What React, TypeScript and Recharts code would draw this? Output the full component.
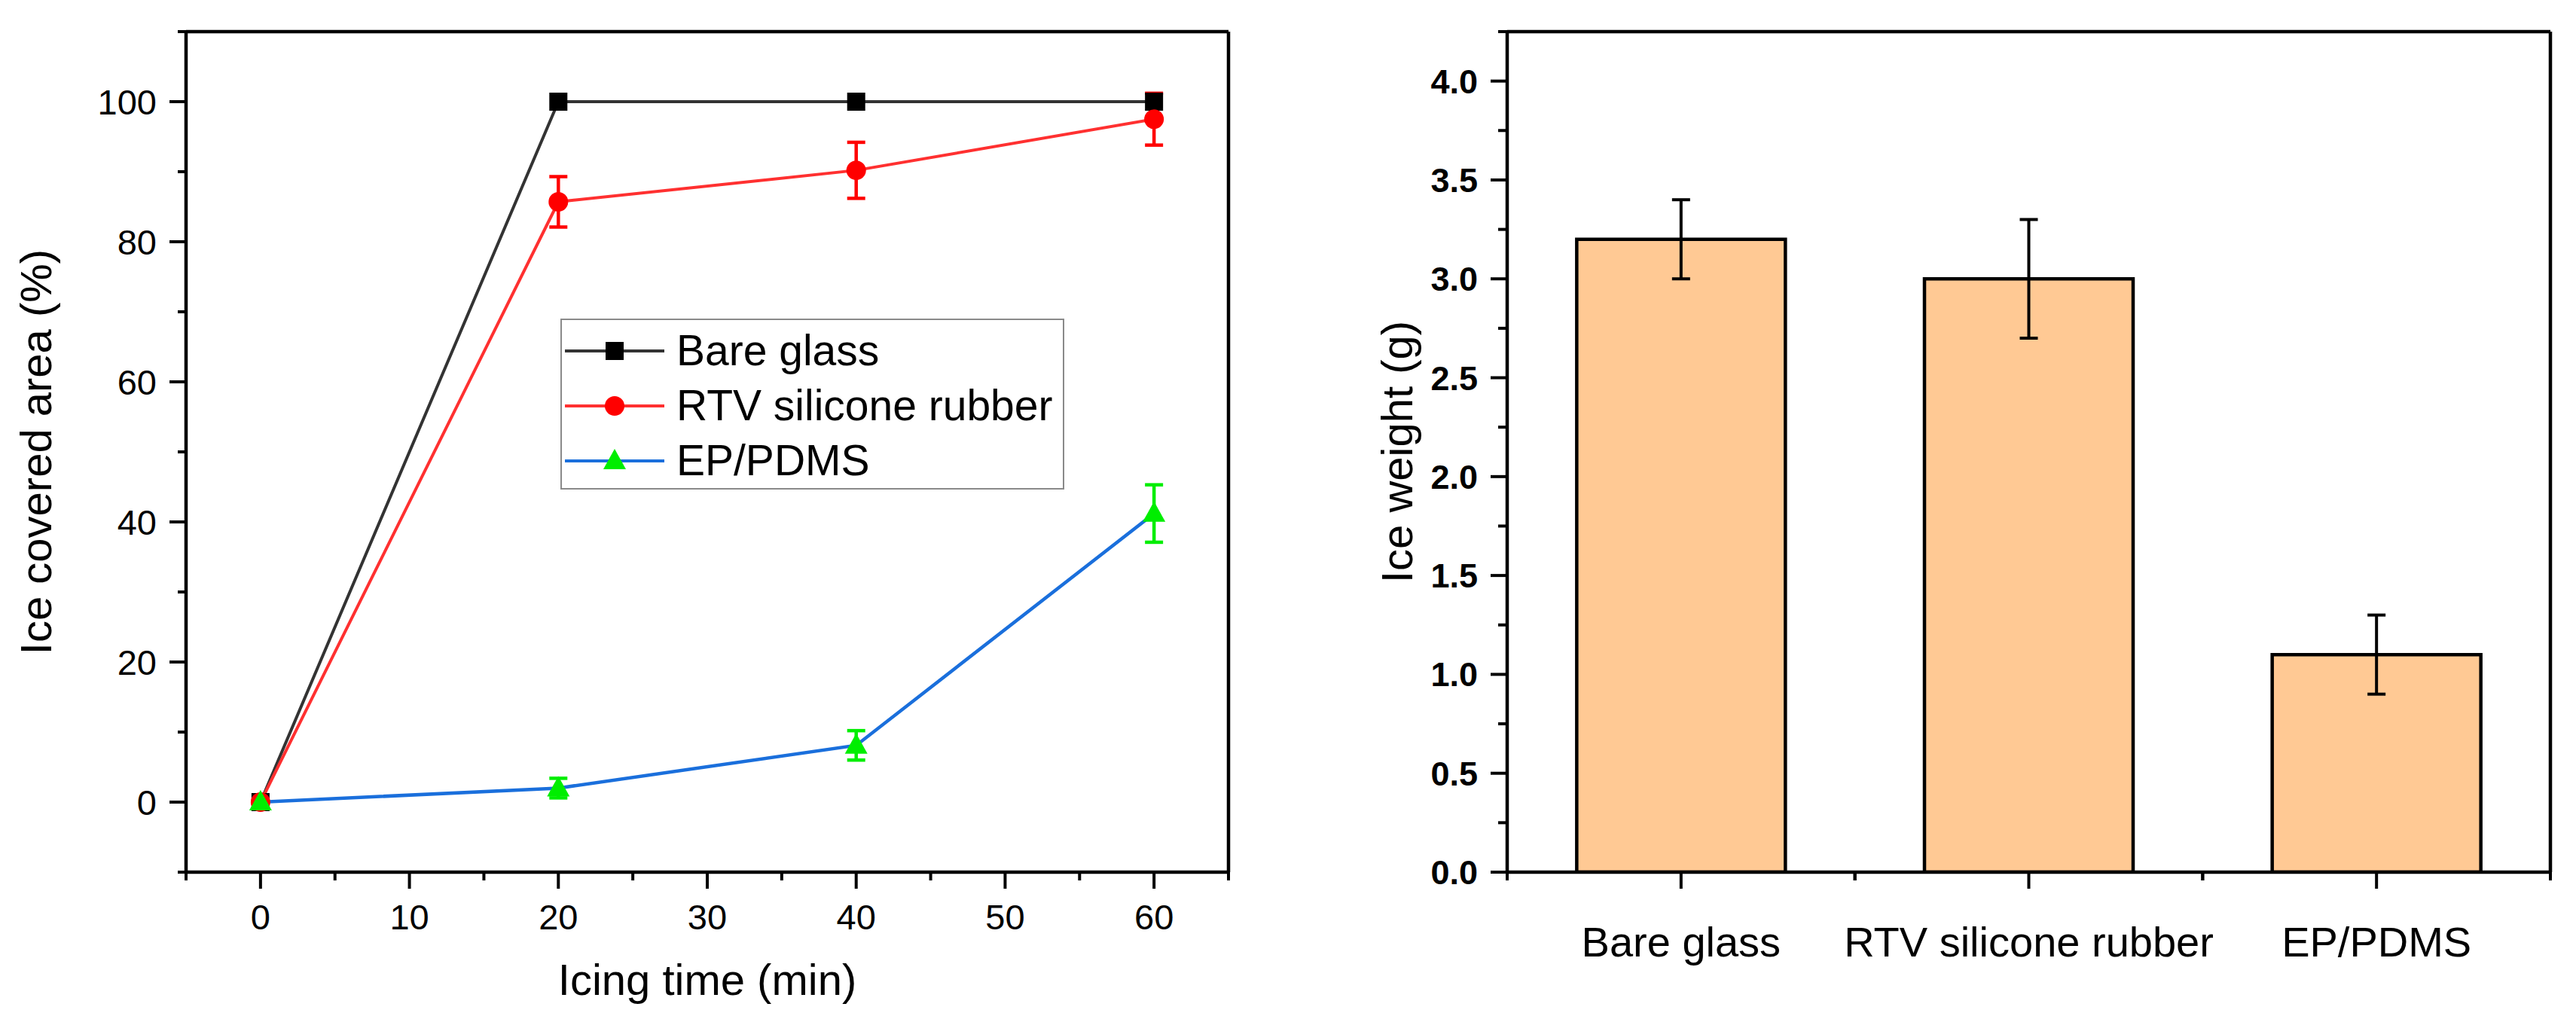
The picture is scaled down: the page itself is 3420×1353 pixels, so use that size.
import React from 'react';
import { LineChart, Line, BarChart, Bar, XAxis, YAxis, ErrorBar, Legend, CartesianGrid } from 'recharts';

const FONT = '"Liberation Sans", Arial, Helvetica, sans-serif';

// left panel: ice covered area (%) vs icing time (min)
const icingTime = [0, 20, 40, 60];
const bareGlassArea = [0, 100, 100, 100];
const rtvArea = [0, 85.7, 90.2, 97.5];
const rtvAreaErr = [0, 3.6, 4.0, 3.7];
const epArea = [0, 2.0, 8.1, 41.2];
const epAreaErr = [0, 1.4, 2.1, 4.1];

const timeTicks = [-5, 0, 5, 10, 15, 20, 25, 30, 35, 40, 45, 50, 55, 60, 65];
const areaTicks = [-10, 0, 10, 20, 30, 40, 50, 60, 70, 80, 90, 100, 110];

// right panel: ice weight (g) per sample
const samples = ['Bare glass', 'RTV silicone rubber', 'EP/PDMS'];
const iceWeight = [3.2, 3.0, 1.1];
const iceWeightErr = [0.2, 0.3, 0.2];
const weightTicks = [0, 0.25, 0.5, 0.75, 1, 1.25, 1.5, 1.75, 2, 2.25, 2.5, 2.75, 3, 3.25, 3.5, 3.75, 4, 4.25];

const areaData = icingTime.map((t, i) => ({
  time: t,
  bare: bareGlassArea[i],
  rtv: rtvArea[i],
  rtvErr: rtvAreaErr[i],
  ep: epArea[i],
  epErr: epAreaErr[i],
}));

const weightData = samples.map((s, i) => ({ name: s, weight: iceWeight[i], err: iceWeightErr[i] }));

const AXIS = { stroke: '#000', strokeWidth: 4.5 };
const BAND = (3386 - 2001) / 3;

const MARKERS: Record<string, { kind: string; fill: string }> = {
  'Bare glass': { kind: 'square', fill: '#000000' },
  'RTV silicone rubber': { kind: 'circle', fill: '#ff0000' },
  'EP/PDMS': { kind: 'triangle', fill: '#00ee00' },
};

function marker(kind: string, cx: number, cy: number, fill: string, key?: string) {
  if (kind === 'square') return <rect key={key} x={cx - 12} y={cy - 12} width={24} height={24} fill={fill} />;
  if (kind === 'circle') return <circle key={key} cx={cx} cy={cy} r={13} fill={fill} />;
  return <polygon key={key} points={`${cx},${cy - 16} ${cx - 15},${cy + 11} ${cx + 15},${cy + 11}`} fill={fill} />;
}

const dotOf = (name: string) => (p: any) => {
  const m = MARKERS[name];
  return marker(m.kind, p.cx, p.cy, m.fill, `${name}-${p.index}`);
};

const TimeTick = (p: any) => {
  const { x, y, payload } = p;
  const major = payload.value % 10 === 0;
  return (
    <g>
      <line x1={x} x2={x} y1={y} y2={y + (major ? 22 : 11)} stroke="#000" strokeWidth={4} />
      {major && (
        <text x={x} y={y + 76} textAnchor="middle" fontSize={47} fontFamily={FONT} fill="#000">
          {payload.value}
        </text>
      )}
    </g>
  );
};

const AreaTick = (p: any) => {
  const { x, y, payload } = p;
  const major = payload.value % 20 === 0;
  return (
    <g>
      <line x1={x - (major ? 22 : 11)} x2={x} y1={y} y2={y} stroke="#000" strokeWidth={4} />
      {major && (
        <text x={x - 39} y={y + 17} textAnchor="end" fontSize={47} fontFamily={FONT} fill="#000">
          {payload.value}
        </text>
      )}
    </g>
  );
};

const WeightTick = (p: any) => {
  const { x, y, payload } = p;
  const v = payload.value;
  const major = Math.abs(v * 2 - Math.round(v * 2)) < 1e-6;
  return (
    <g>
      <line x1={x - (major ? 22 : 12)} x2={x} y1={y} y2={y} stroke="#000" strokeWidth={4} />
      {major && (
        <text x={x - 39} y={y + 16} textAnchor="end" fontSize={45} fontWeight="bold" fontFamily={FONT} fill="#000">
          {v.toFixed(1)}
        </text>
      )}
    </g>
  );
};

const SampleTick = (p: any) => {
  const { x, y, payload } = p;
  return (
    <g>
      <line x1={x} x2={x} y1={y} y2={y + 22} stroke="#000" strokeWidth={4} />
      <line x1={x - BAND / 2} x2={x - BAND / 2} y1={y} y2={y + 11} stroke="#000" strokeWidth={4} />
      <line x1={x + BAND / 2} x2={x + BAND / 2} y1={y} y2={y + 11} stroke="#000" strokeWidth={4} />
      <text x={x} y={y + 112} textAnchor="middle" fontSize={56} fontFamily={FONT} fill="#000">
        {payload.value}
      </text>
    </g>
  );
};

const renderLegend = (props: any) => {
  const payload = [...(props.payload || [])].sort((a: any, b: any) => samples.indexOf(a.value) - samples.indexOf(b.value));
  return (
    <div
      style={{
        width: 669,
        height: 227,
        border: '2px solid #8a8a8a',
        background: '#fff',
        fontFamily: FONT,
        fontSize: 57,
        color: '#000',
        paddingTop: 4,
        boxSizing: 'border-box',
      }}
    >
      {payload.map((entry: any) => {
        const m = MARKERS[entry.value];
        return (
          <div key={entry.value} style={{ display: 'flex', alignItems: 'center', height: 73, lineHeight: '73px' }}>
            <svg width={152} height={40} style={{ flex: 'none' }}>
              <line x1={4} x2={136} y1={20} y2={20} stroke={entry.color} strokeWidth={4} />
              {marker(m.kind, 70, 20, m.fill)}
            </svg>
            <span style={{ whiteSpace: 'nowrap' }}>{entry.value}</span>
          </div>
        );
      })}
    </div>
  );
};

function AreaChartPanel() {
  return (
    <LineChart width={1710} height={1353} data={areaData} margin={{ top: 42, right: 79, bottom: 0, left: 0 }}>
      {/* closes the box: top and right borders */}
      <CartesianGrid horizontalPoints={[42]} verticalPoints={[1631]} stroke="#000" strokeWidth={4.5} />
      <XAxis
        dataKey="time"
        type="number"
        domain={[-5, 65]}
        ticks={timeTicks}
        interval={0}
        allowDataOverflow
        height={195}
        axisLine={AXIS}
        tickLine={false}
        tickSize={0}
        tickMargin={0}
        tick={TimeTick}
        label={{
          content: ({ viewBox }: any) => (
            <text x={viewBox.x + viewBox.width / 2} y={viewBox.y + 163} textAnchor="middle" fontSize={58} fontFamily={FONT} fill="#000">
              Icing time (min)
            </text>
          ),
        }}
      />
      <YAxis
        type="number"
        domain={[-10, 110]}
        ticks={areaTicks}
        interval={0}
        allowDataOverflow
        width={247}
        axisLine={AXIS}
        tickLine={false}
        tickSize={0}
        tickMargin={0}
        tick={AreaTick}
        label={{
          content: ({ viewBox }: any) => (
            <text
              x={68}
              y={viewBox.y + viewBox.height / 2}
              transform={`rotate(-90, 68, ${viewBox.y + viewBox.height / 2})`}
              textAnchor="middle"
              fontSize={58}
              fontFamily={FONT}
              fill="#000"
            >
              Ice covered area (%)
            </text>
          ),
        }}
      />
      <Legend content={renderLegend} layout="horizontal" verticalAlign="middle" align="center" wrapperStyle={{ left: 744, top: 423, width: 669, height: 227 }} />
      <Line dataKey="bare" name="Bare glass" stroke="#333333" strokeWidth={4} dot={dotOf('Bare glass')} isAnimationActive={false} />
      <Line dataKey="rtv" name="RTV silicone rubber" stroke="#ff3030" strokeWidth={4} dot={dotOf('RTV silicone rubber')} isAnimationActive={false}>
        <ErrorBar dataKey="rtvErr" direction="y" width={12} strokeWidth={4.5} stroke="#ff0000" />
      </Line>
      <Line dataKey="ep" name="EP/PDMS" stroke="#1a6fdc" strokeWidth={4.5} dot={dotOf('EP/PDMS')} isAnimationActive={false}>
        <ErrorBar dataKey="epErr" direction="y" width={12} strokeWidth={4.5} stroke="#00ee00" />
      </Line>
    </LineChart>
  );
}

function WeightChartPanel() {
  return (
    <BarChart width={1710} height={1353} data={weightData} barCategoryGap="20%" margin={{ top: 42, right: 34, bottom: 0, left: 0 }}>
      <CartesianGrid horizontalPoints={[42]} verticalPoints={[1676]} stroke="#000" strokeWidth={4.5} />
      <XAxis
        dataKey="name"
        height={195}
        interval={0}
        axisLine={AXIS}
        tickLine={false}
        tickSize={0}
        tickMargin={0}
        tick={SampleTick}
      />
      <YAxis
        type="number"
        domain={[0, 4.25]}
        ticks={weightTicks}
        interval={0}
        allowDataOverflow
        width={291}
        axisLine={AXIS}
        tickLine={false}
        tickSize={0}
        tickMargin={0}
        tick={WeightTick}
        label={{
          content: ({ viewBox }: any) => (
            <text
              x={165}
              y={viewBox.y + viewBox.height / 2}
              transform={`rotate(-90, 165, ${viewBox.y + viewBox.height / 2})`}
              textAnchor="middle"
              fontSize={58}
              fontFamily={FONT}
              fill="#000"
            >
              Ice weight (g)
            </text>
          ),
        }}
      />
      <Bar dataKey="weight" fill="#ffc994" stroke="#000" strokeWidth={4.5} isAnimationActive={false}>
        <ErrorBar dataKey="err" direction="y" width={12} strokeWidth={4} stroke="#000" />
      </Bar>
    </BarChart>
  );
}

export default function App() {
  return (
    <div style={{ position: 'absolute', left: 0, top: 0, width: 3420, height: 1353, background: '#fff' }}>
      <div style={{ position: 'absolute', left: 0, top: 0 }}>
        <AreaChartPanel />
      </div>
      <div style={{ position: 'absolute', left: 1710, top: 0 }}>
        <WeightChartPanel />
      </div>
    </div>
  );
}
